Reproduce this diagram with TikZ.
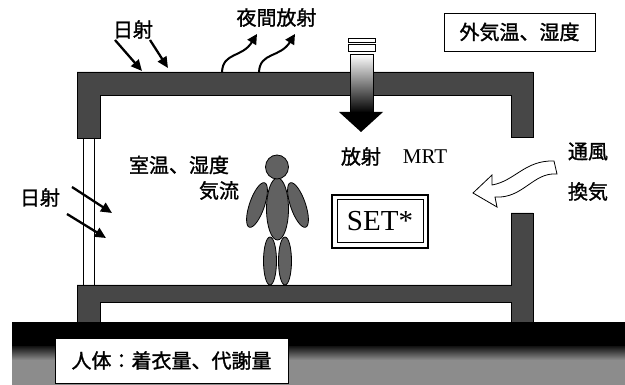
\documentclass[tikz,border=0pt]{standalone}
\usepackage{fontspec}
\setmainfont{Liberation Serif}
\newfontfamily\jp{Noto Sans CJK JP}[FakeBold=1.4]
\usetikzlibrary{arrows.meta}
\begin{document}
\begin{tikzpicture}[x=1pt,y=-1pt,
  wall/.style={fill=black!72, draw=black, line width=0.6pt},
  jlabel/.style={font=\jp\fontsize{20}{20}\selectfont, inner sep=0pt},
  rlabel/.style={font=\fontsize{21}{21}\selectfont, inner sep=0pt},
  sunray/.style={line width=2.3pt, -{Triangle[length=11pt,width=10pt]}},
  nightray/.style={line width=2pt, -{Triangle[length=10pt,width=10pt]}},
  body/.style={fill=black!62, draw=black, line width=0.8pt},
]
\useasboundingbox (0,0) rectangle (625,385);

% ground: dark top layer over grey soil
\fill[black!45] (12,346) rectangle (625,385);
\shade[top color=black, bottom color=black!45] (12,344) rectangle (625,360);
\fill[black] (12,322) rectangle (625,346);

% upper structure: roof and upper walls
\path[wall] (77,72) -- (533,72) -- (533,137) -- (511,137) -- (511,95)
  -- (100,95) -- (100,138) -- (77,138) -- cycle;
% lower structure: floor slab, foundations, lower right wall
\path[wall] (77,285) -- (511,285) -- (511,213) -- (533,213) -- (533,322)
  -- (511,322) -- (511,302) -- (100,302) -- (100,322) -- (77,322) -- cycle;

% window
\draw[line width=0.7pt] (83,138) -- (83,285);
\draw[line width=0.7pt] (94,138) -- (94,285);

% ventilator with radiation arrow
\draw[fill=white, line width=0.7pt] (348,38) rectangle (375,42);
\draw[fill=white, line width=0.7pt] (348,44) rectangle (375,51);
\shade[top color=white, middle color=black!45, bottom color=black] (350,54) rectangle (373,113);
\draw[line width=0.7pt] (350,113) -- (350,54) -- (373,54) -- (373,113);
\fill[black] (339,112) -- (383,112) -- (361,132) -- cycle;

% solar radiation on the roof
\coordinate (s1a) at (115,40); \coordinate (s1b) at (142,71);
\coordinate (s2a) at (150,40); \coordinate (s2b) at (168,68);
\draw[sunray] (s1a) -- (s1b);
\draw[sunray] (s2a) -- (s2b);

% night-time radiation
\coordinate (n1a) at (222,72); \coordinate (n1b) at (257,34);
\coordinate (n2a) at (259,72); \coordinate (n2b) at (295,34);
\draw[nightray] (n1a) .. controls (223,52) and (242,58) .. (n1b);
\draw[nightray] (n2a) .. controls (260,52) and (280,58) .. (n2b);

% solar radiation through the window
\coordinate (w1a) at (72,187); \coordinate (w1b) at (112,213);
\coordinate (w2a) at (67,214); \coordinate (w2b) at (106,238);
\draw[sunray] (w1a) -- (w1b);
\draw[sunray] (w2a) -- (w2b);

% ventilation arrow
\draw[fill=white, line width=0.8pt] (473,193) -- (492,175) -- (492,185)
  .. controls (515,181) and (525,160) .. (554,161) -- (557,174)
  .. controls (533,172) and (523,199) .. (495,197) -- (497,207) -- cycle;

% human figure
\path[body] (270,261) ellipse [x radius=6.5, y radius=24];
\path[body] (285,261) ellipse [x radius=6.5, y radius=24];
\path[body, rotate around={-19:(257,205)}] (257,205) ellipse [x radius=7.5, y radius=23.5];
\path[body, rotate around={19:(298,205)}] (298,205) ellipse [x radius=7.5, y radius=23.5];
\path[body] (277.5,209) ellipse [x radius=11, y radius=31];
\path[body] (277,167) ellipse [x radius=11.5, y radius=12];

% labels
\node[jlabel] (sunroof) at (133,29.5) {日射};
\node[jlabel] (night) at (276.5,17.5) {夜間放射};
\node[jlabel, draw, line width=0.9pt, minimum width=151pt, minimum height=38pt] (outdoor) at (519.5,32) {外気温、湿度};
\node[jlabel] (rad) at (361,156.5) {放射};
\node[rlabel] (mrt) at (425,157) {MRT};
\node[jlabel] (room) at (179,165) {室温、湿度};
\node[jlabel] (air) at (219,190.5) {気流};
\node[jlabel] (sunwin) at (40,197.5) {日射};
\node[jlabel] (vent1) at (588,151.5) {通風};
\node[jlabel] (vent2) at (588,191.5) {換気};
\node[draw, line width=2.5pt, fill=white, minimum width=96pt, minimum height=53pt] (setout) at (380,221.5) {};
\node[draw, line width=1pt, minimum width=86pt, minimum height=43pt, inner sep=0pt,
  font=\fontsize{29}{29}\selectfont] (set) at (setout.center) {SET*};
\node[jlabel, draw, fill=white, line width=0.9pt, minimum width=233pt, minimum height=45pt] (human) at (171.5,360.5) {人体：着衣量、代謝量};
\end{tikzpicture}
\end{document}
